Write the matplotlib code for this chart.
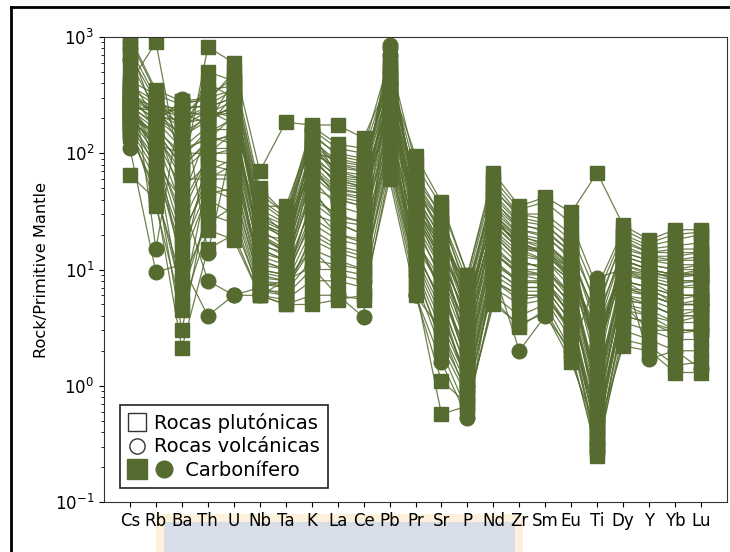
import numpy as np
import matplotlib
matplotlib.use("Agg")
import matplotlib.pyplot as plt
from matplotlib.lines import Line2D
from matplotlib.patches import Rectangle
from matplotlib.legend_handler import HandlerBase

# elements normalised to primitive mantle
elements = ["Cs", "Rb", "Ba", "Th", "U", "Nb", "Ta", "K", "La", "Ce", "Pb", "Pr",
            "Sr", "P", "Nd", "Zr", "Sm", "Eu", "Ti", "Dy", "Y", "Yb", "Lu"]

# rocas plutonicas (squares)
plutonicas = [
    [950, 330, 120, 500, 420, 45, 30, 120, 80, 70, 550, 50, 25, 5, 35, 20, 18, 10, 2, 12, 10, 9, 9],
    [400, 900, 60, 820, 600, 70, 185, 175, 175, 135, 430, 95, 38, 9, 68, 35, 42, 31, 68, 24, 18, 22, 22],
    [300, 250, 200, 250, 300, 25, 20, 100, 60, 55, 300, 40, 15, 2, 30, 15, 15, 8, 0.8, 10, 8, 6, 6],
    [250, 180, 40, 150, 200, 15, 12, 50, 40, 35, 250, 25, 8, 1.5, 20, 12, 10, 6, 0.5, 8, 7, 5, 5],
    [200, 120, 10, 100, 100, 10, 9, 30, 25, 20, 150, 15, 5, 1, 12, 8, 8, 4, 0.35, 6, 5, 4, 4],
    [180, 90, 5, 60, 60, 8, 7, 15, 12, 10, 100, 10, 3, 0.8, 8, 6, 6, 3, 0.3, 4, 3.5, 3, 3],
    [350, 200, 150, 200, 250, 20, 18, 80, 50, 45, 200, 30, 12, 4, 25, 18, 13, 9, 3, 11, 9, 8, 8],
    [150, 60, 3, 40, 30, 6, 5.5, 8, 8, 7, 80, 8, 2, 0.6, 6, 4, 5, 2, 0.25, 3, 2.5, 2, 2],
    [1000, 350, 280, 300, 350, 35, 35, 140, 100, 90, 400, 60, 30, 6, 50, 28, 25, 15, 5, 18, 14, 15, 15],
    [220, 150, 80, 120, 150, 12, 10, 70, 45, 40, 350, 30, 10, 3, 22, 14, 12, 7, 1, 9, 8, 7, 7],
    [280, 100, 30, 90, 80, 9, 8, 40, 30, 25, 180, 20, 6, 2, 15, 10, 9, 5, 0.6, 7, 6, 5, 5],
    [65, 40, 2.1, 15, 20, 6, 5, 5, 5.5, 6, 60, 6, 1.1, 0.7, 5, 3.4, 4.2, 1.6, 0.4, 2.2, 2, 1.3, 1.3],
    [380, 280, 220, 180, 420, 28, 22, 110, 70, 65, 600, 45, 18, 7, 40, 22, 20, 12, 4, 14, 12, 12, 12],
    [160, 70, 15, 50, 40, 7, 6, 20, 15, 13, 120, 12, 4, 1.2, 10, 7, 7, 3.5, 0.45, 5, 4, 3.5, 3.5],
    [320, 220, 170, 230, 180, 18, 15, 90, 55, 50, 280, 35, 14, 5, 28, 16, 14, 10, 2.5, 12, 10, 9, 10],
    [240, 160, 100, 140, 120, 14, 12, 60, 35, 30, 220, 22, 9, 2.5, 18, 11, 11, 6, 1.2, 8, 7, 6, 6],
    [190, 130, 50, 80, 70, 11, 10, 35, 20, 18, 160, 16, 7, 1.8, 14, 9, 8, 4.5, 0.7, 6, 5.5, 4.5, 4.5],
    [420, 320, 260, 300, 450, 40, 28, 160, 110, 100, 500, 70, 28, 8, 55, 30, 30, 20, 6, 20, 16, 18, 20],
    [270, 200, 130, 220, 280, 22, 16, 90, 65, 60, 380, 42, 16, 4, 32, 20, 16, 11, 2, 13, 11, 10, 11],
    [140, 50, 6, 30, 25, 6.5, 6, 10, 10, 9, 90, 9, 2.5, 0.9, 7, 5, 5.5, 2.5, 0.3, 3.5, 3, 2.5, 2.5],
    [330, 240, 180, 200, 230, 30, 24, 130, 80, 75, 320, 50, 20, 6, 38, 24, 22, 14, 3.5, 16, 13, 12, 13],
    [210, 110, 25, 70, 90, 10, 9, 25, 18, 16, 140, 14, 5.5, 1.3, 11, 8, 7.5, 4, 0.5, 5.5, 5, 4, 4.5],
    [800, 300, 160, 400, 300, 32, 20, 100, 75, 70, 450, 48, 22, 5, 36, 22, 19, 13, 2, 14, 12, 11, 11],
    [260, 170, 90, 160, 160, 16, 14, 65, 42, 38, 260, 28, 11, 3, 21, 13, 12, 8, 1.1, 10, 8.5, 7.5, 8],
    [230, 140, 70, 110, 110, 13, 11, 45, 28, 26, 200, 18, 8, 2.2, 16, 10, 10, 5.5, 0.9, 7, 6.5, 5.5, 6],
    [360, 260, 240, 260, 350, 24, 19, 100, 90, 80, 480, 55, 25, 3.5, 45, 26, 24, 16, 1.5, 17, 14, 14, 14],
    [170, 80, 12, 45, 50, 7.5, 7, 18, 14, 12, 110, 11, 3.5, 1.1, 9, 6.5, 6.5, 3, 0.4, 4.5, 4, 3, 3],
    [290, 190, 110, 130, 140, 20, 14, 75, 48, 45, 240, 32, 13, 3.5, 26, 17, 14, 9, 1.8, 11, 9.5, 8.5, 9],
    [700, 280, 200, 350, 380, 38, 26, 150, 95, 85, 420, 58, 26, 7, 48, 30, 27, 18, 4.5, 19, 15, 16, 17],
    [200, 100, 20, 55, 45, 8, 7.5, 22, 16, 14, 130, 13, 4.5, 1, 10, 7, 7, 3.5, 0.35, 5, 4.5, 3.5, 4],
    [250, 230, 140, 190, 260, 26, 18, 85, 58, 52, 340, 38, 17, 4.5, 30, 19, 17, 11, 2.2, 13, 11, 10, 10],
    [310, 210, 190, 240, 200, 17, 13, 120, 62, 58, 290, 36, 14, 5.5, 27, 16, 15, 9, 2.8, 10, 9, 9, 9],
    [450, 190, 280, 280, 500, 50, 30, 170, 120, 110, 650, 80, 35, 9, 60, 33, 38, 25, 7, 22, 17, 20, 21],
    [180, 35, 4.5, 22, 18, 6, 5, 6, 6, 5.5, 70, 7, 0.57, 0.67, 5.5, 3.2, 4.5, 1.8, 0.3, 2.5, 2.2, 1.5, 1.6],
    [230, 260, 110, 170, 320, 19, 14, 95, 52, 48, 310, 34, 16, 3, 28, 18, 16, 10, 1.4, 12, 10, 9, 9.5],
    [150, 45, 8, 25, 35, 6.5, 6.5, 12, 11, 10, 85, 10, 2.2, 0.8, 8, 5.5, 6, 2.8, 0.28, 4, 3.5, 2.8, 3],
    [340, 160, 75, 130, 210, 27, 21, 70, 46, 42, 270, 30, 12, 4, 24, 15, 14, 8, 2, 9.5, 8, 7, 7.5],
    [260, 130, 35, 95, 110, 9.5, 8.5, 38, 26, 24, 170, 19, 6.5, 1.6, 14, 9.5, 9, 5, 0.7, 6.5, 6, 5, 5.5],
    [600, 240, 230, 210, 240, 33, 25, 130, 85, 78, 360, 52, 21, 6.5, 42, 25, 21, 14, 3, 15, 13, 13, 14],
    [200, 75, 18, 65, 65, 8.5, 8, 28, 20, 17, 125, 15, 5, 1.4, 12, 7.5, 8, 4, 0.45, 5.5, 5, 4, 4],
]

# rocas volcanicas (circles)
volcanicas = [
    [110, 9.5, 11, 4, 6, 6, 8, 10.5, 6, 3.9, 800, 6, 1.6, 0.53, 10, 2, 4, 2, 8.5, 10, 1.7, 2, 1.4],
    [630, 15, 290, 14, 136, 25, 20, 160, 60, 50, 850, 35, 12, 2, 25, 15, 12, 8, 1, 8, 6, 5, 5],
    [800, 200, 250, 250, 300, 20, 15, 120, 70, 60, 700, 40, 20, 5, 30, 18, 15, 10, 2, 12, 10, 8, 8],
    [250, 120, 100, 100, 150, 15, 12, 80, 40, 35, 500, 25, 10, 3, 20, 12, 10, 6, 1, 8, 7, 6, 6],
    [300, 80, 40, 8, 6, 7, 8, 15, 9, 8, 300, 6, 3, 1, 8, 6, 6, 3, 0.5, 5, 3, 3, 3],
    [200, 150, 60, 60, 80, 12, 10, 50, 25, 20, 400, 18, 7, 1.5, 14, 9, 9, 5, 0.8, 7, 6, 5, 5],
]

green = "#556b2f"


class HandlerPair(HandlerBase):
    # square inside the handle box, circle just to the right of it
    def create_artists(self, legend, orig_handle, xdescent, ydescent, width, height, fontsize, trans):
        y = height / 2 - ydescent
        x0 = width / 2 - xdescent
        sq = Line2D([x0], [y], marker="s", ls="none", color=green, ms=14, transform=trans)
        ci = Line2D([x0 + 1.45 * width], [y], marker="o", ls="none", color=green, ms=12, transform=trans)
        return [sq, ci]


fig = plt.figure(figsize=(7.3, 5.52), dpi=100)

# page frame + faint watermark at the bottom
fig.add_artist(Rectangle((156 / 730, 0), 367 / 730, 38 / 552, transform=fig.transFigure,
                         facecolor="#fdf1dc", edgecolor="none", zorder=0))
fig.add_artist(Rectangle((164 / 730, 0), 351 / 730, 30 / 552, transform=fig.transFigure,
                         facecolor="#d8dee8", edgecolor="none", zorder=0))
fig.add_artist(Line2D([11 / 730, 11 / 730], [0, 1 - 7 / 552], transform=fig.transFigure,
                      color="black", lw=2))
fig.add_artist(Line2D([11 / 730, 1], [1 - 7 / 552, 1 - 7 / 552], transform=fig.transFigure,
                      color="black", lw=2))

ax = fig.add_axes([104 / 730, 1 - 502 / 552, 623 / 730, 465 / 552])
ax.patch.set_alpha(0)

x = np.arange(len(elements))
for row in plutonicas:
    ax.plot(x, row, "-", color=green, lw=0.9, alpha=0.85)
    ax.plot(x, row, "s", color=green, ms=10.5, mec=green)
for row in volcanicas:
    ax.plot(x, row, "-", color=green, lw=0.9, alpha=0.85)
    ax.plot(x, row, "o", color=green, ms=10.5, mec=green)

ax.set_yscale("log")
ax.set_ylim(0.1, 1000)
ax.set_xlim(-1, 23)
ax.set_xticks(x)
ax.set_xticklabels(elements, fontsize=12)
ax.tick_params(axis="y", labelsize=12)
ax.set_ylabel("Rock/Primitive Mantle", fontsize=11.7)
for s in ax.spines.values():
    s.set_color("#333333")

h_plut = Line2D([], [], marker="s", ls="none", mfc="white", mec="#333333", ms=13, mew=1)
h_volc = Line2D([], [], marker="o", ls="none", mfc="white", mec="#333333", ms=11, mew=1)
leg = ax.legend([h_plut, h_volc, ("carb_sq", "carb_ci")],
                ["Rocas plutónicas", "Rocas volcánicas", "     Carbonífero"],
                handler_map={tuple: HandlerPair()},
                loc="lower left", bbox_to_anchor=(0.026, 0.03), borderaxespad=0,
                fontsize=14, fancybox=False, framealpha=1, edgecolor="#222222",
                handlelength=0.95, handletextpad=0.4, labelspacing=0.25,
                borderpad=0.4)
leg.get_frame().set_linewidth(1.2)

fig.savefig("out.png", dpi=100)
